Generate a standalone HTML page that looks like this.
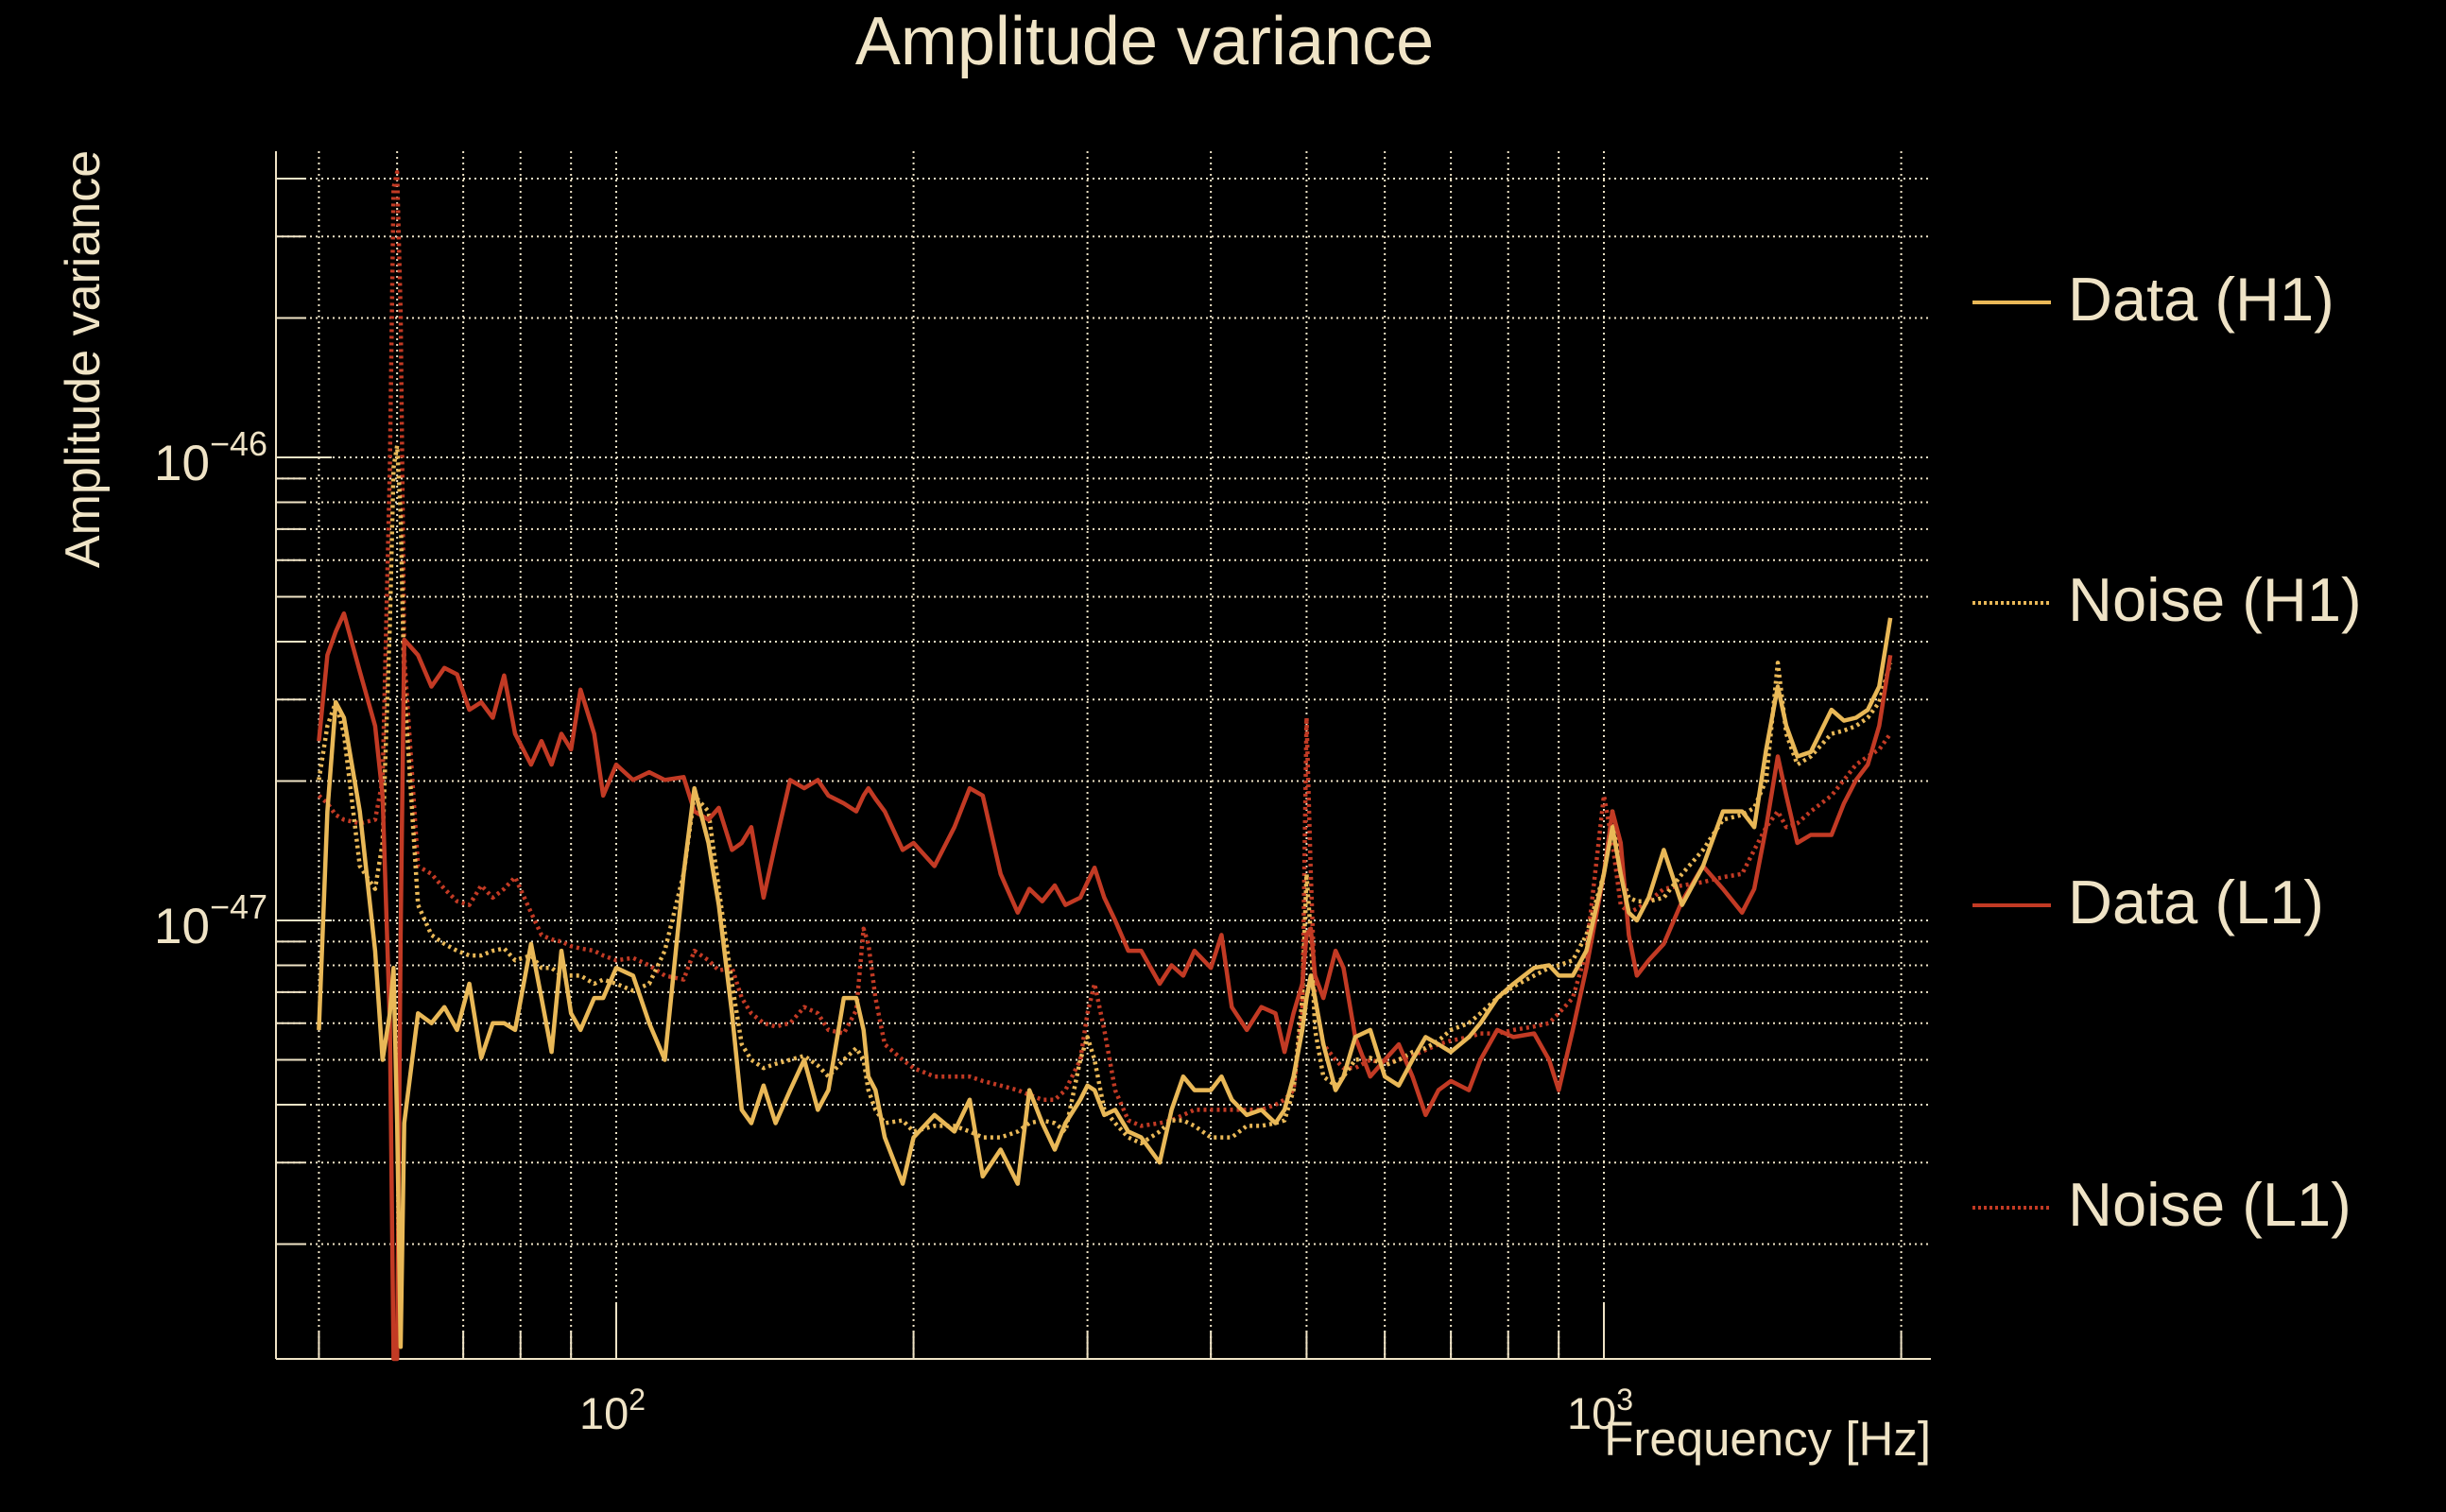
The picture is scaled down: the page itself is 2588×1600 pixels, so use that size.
<!DOCTYPE html>
<html><head><meta charset="utf-8"><style>
html,body{margin:0;padding:0;background:#000;}
svg{display:block;font-family:"Liberation Sans",sans-serif;}
</style></head><body>
<svg id="chart" width="2588" height="1600" viewBox="0 0 2588 1600" xmlns="http://www.w3.org/2000/svg">
<rect width="2588" height="1600" fill="#000"/>
<g id="grid"></g>
<g id="axes"></g>
<g id="series"></g>
<text x="1211" y="68" font-size="72" fill="#f0e4c6" text-anchor="middle">Amplitude variance</text>
<text transform="translate(105,380) rotate(-90)" font-size="52" fill="#f0e4c6" text-anchor="middle">Amplitude variance</text>
<text x="2043" y="1540" font-size="51" fill="#f0e4c6" text-anchor="end">Frequency [Hz]</text>
<g id="legend"></g>
</svg>
<script>
const freqs=[50,51,52,53,55,57,58,59,59.5,60,60.5,61,63,65,67,69,71,73,75,77,79,82,84,86,88,90,92,95,97,100,104,108,112,117,120,124,127,131,134,137,141,145,150,155,160,164,170,175,178,180,183,187,195,200,210,220,228,235,245,255,262,270,278,285,295,300,305,312,320,330,340,355,365,375,385,400,410,420,435,450,465,475,485,495,500,505,510,520,535,545,560,580,600,620,640,660,680,700,730,750,780,810,850,880,900,930,960,1000,1020,1040,1060,1080,1110,1150,1200,1260,1320,1380,1420,1460,1500,1530,1570,1620,1700,1750,1800,1850,1900,1950];
// values in units of 1e-47
const dataL1=[2.44,3.74,4.2,4.6,3.45,2.63,1.86,0.60,0.11,0.11,0.93,4.04,3.74,3.20,3.51,3.40,2.85,2.96,2.74,3.38,2.53,2.17,2.44,2.17,2.53,2.34,3.15,2.53,1.86,2.17,2.01,2.09,2.01,2.04,1.72,1.65,1.75,1.42,1.47,1.59,1.12,1.47,2.01,1.93,2.01,1.86,1.79,1.72,1.86,1.93,1.83,1.72,1.42,1.47,1.31,1.59,1.93,1.86,1.26,1.04,1.17,1.10,1.19,1.08,1.12,1.21,1.30,1.12,1.0,0.86,0.86,0.73,0.80,0.76,0.86,0.79,0.93,0.65,0.58,0.65,0.63,0.52,0.63,0.73,0.93,0.96,0.76,0.68,0.86,0.79,0.56,0.46,0.50,0.54,0.46,0.38,0.43,0.45,0.43,0.50,0.58,0.56,0.57,0.50,0.43,0.58,0.79,1.26,1.72,1.47,0.93,0.76,0.82,0.89,1.10,1.31,1.17,1.04,1.17,1.59,2.26,1.86,1.47,1.53,1.53,1.79,2.01,2.17,2.63,3.74];
const dataH1=[0.58,1.72,2.96,2.74,1.72,0.86,0.50,0.63,0.79,0.365,0.12,0.365,0.63,0.60,0.65,0.58,0.73,0.505,0.60,0.60,0.58,0.89,0.68,0.52,0.86,0.63,0.58,0.68,0.68,0.79,0.76,0.60,0.50,1.26,1.93,1.47,1.08,0.63,0.39,0.365,0.44,0.365,0.43,0.50,0.39,0.43,0.68,0.68,0.58,0.46,0.43,0.34,0.27,0.34,0.38,0.35,0.41,0.28,0.32,0.27,0.43,0.365,0.32,0.365,0.41,0.44,0.43,0.38,0.39,0.35,0.34,0.30,0.39,0.46,0.43,0.43,0.46,0.41,0.38,0.39,0.365,0.39,0.46,0.58,0.68,0.76,0.68,0.54,0.43,0.46,0.56,0.58,0.46,0.44,0.50,0.56,0.54,0.52,0.56,0.60,0.68,0.73,0.79,0.80,0.76,0.76,0.86,1.26,1.59,1.26,1.04,1.0,1.12,1.42,1.08,1.31,1.72,1.72,1.59,2.34,3.20,2.63,2.26,2.31,2.85,2.70,2.74,2.85,3.20,4.5];
const noiseH1=[2.01,2.63,2.96,2.53,1.31,1.17,1.47,4.36,9.5,10.6,7.5,3.20,1.08,0.93,0.89,0.86,0.84,0.84,0.86,0.87,0.82,0.84,0.79,0.79,0.76,0.76,0.76,0.73,0.745,0.73,0.705,0.73,0.86,1.26,1.86,1.72,1.17,0.73,0.54,0.50,0.48,0.49,0.50,0.51,0.486,0.46,0.50,0.53,0.50,0.43,0.39,0.365,0.37,0.35,0.36,0.36,0.35,0.34,0.34,0.35,0.365,0.37,0.365,0.35,0.50,0.56,0.50,0.39,0.365,0.34,0.33,0.35,0.37,0.37,0.36,0.34,0.34,0.34,0.36,0.36,0.365,0.37,0.43,0.68,1.26,0.93,0.58,0.46,0.44,0.46,0.50,0.505,0.486,0.50,0.52,0.53,0.55,0.58,0.60,0.63,0.68,0.72,0.76,0.79,0.80,0.82,0.93,1.26,1.72,1.26,1.12,1.10,1.10,1.12,1.26,1.42,1.65,1.69,1.75,2.01,3.6,2.53,2.17,2.26,2.53,2.57,2.63,2.74,2.96,3.6];
const noiseL1=[1.86,1.79,1.69,1.65,1.62,1.65,2.01,9.5,38.2,41.3,20.5,3.74,1.31,1.26,1.17,1.10,1.08,1.19,1.12,1.17,1.24,1.04,0.93,0.91,0.90,0.88,0.87,0.86,0.84,0.82,0.83,0.80,0.76,0.745,0.86,0.82,0.78,0.79,0.68,0.63,0.60,0.59,0.60,0.65,0.63,0.58,0.57,0.64,0.96,0.89,0.68,0.54,0.50,0.48,0.46,0.46,0.46,0.45,0.44,0.43,0.42,0.41,0.41,0.43,0.50,0.63,0.73,0.58,0.43,0.37,0.36,0.365,0.37,0.38,0.39,0.39,0.39,0.39,0.39,0.39,0.40,0.41,0.43,0.63,2.74,1.26,0.68,0.54,0.50,0.48,0.48,0.50,0.49,0.50,0.51,0.525,0.54,0.55,0.56,0.57,0.57,0.58,0.59,0.60,0.63,0.68,0.86,1.86,1.47,1.08,1.04,1.06,1.10,1.17,1.19,1.21,1.24,1.26,1.42,1.59,1.72,1.59,1.62,1.72,1.86,2.01,2.17,2.26,2.34,2.53];
const unit=1e-47;
const xMajorTicks=[100,1000];
const xMajorLabels=["2","3"];
const yMajorTicks=[1e-46,1e-47];
const yMajorLabels=["\u221246","\u221247"];

const NS="http://www.w3.org/2000/svg";
const L=292,R=2043,T=160,B=1438;
function xs(f){return 652+1045*(Math.log10(f)-2);}
function ys(v){return 974-490*(Math.log10(v)+47);}
const cream="#efe3c6",yellow="#e9b857",red="#c23a24";
function mk(tag,attrs,parent){const e=document.createElementNS(NS,tag);for(const k in attrs)e.setAttribute(k,attrs[k]);parent.appendChild(e);return e;}
const grid=document.getElementById('grid'),axes=document.getElementById('axes');
for(let d=1;d<=3;d++){for(let m=1;m<10;m++){const f=m*Math.pow(10,d);const x=xs(f);if(x<L||x>R)continue;
 const g=mk('line',{x1:x,x2:x,y1:T,y2:B,stroke:cream,'stroke-width':2,'stroke-dasharray':'2 4'},grid);
 
 
 const t=mk('line',{x1:x,x2:x,y1:B,y2:B-(m===1?59:30),stroke:cream,'stroke-width':2},axes);
 
 
}}
for(let d=-48;d<=-46;d++){for(let m=1;m<10;m++){const v=m*Math.pow(10,d);const y=ys(v);if(y<T||y>B)continue;
 const g=mk('line',{x1:L,x2:R,y1:y,y2:y,stroke:cream,'stroke-width':2,'stroke-dasharray':'2 4'},grid);
 
 
 const t=mk('line',{x1:L,x2:L+(m===1?59:30),y1:y,y2:y,stroke:cream,'stroke-width':2},axes);
 
 
}}
const sp1=mk('line',{x1:L,x2:L,y1:T,y2:B,stroke:cream,'stroke-width':2},axes);


const sp2=mk('line',{x1:L,x2:R,y1:B,y2:B,stroke:cream,'stroke-width':2},axes);


xMajorTicks.forEach((f,i)=>{const x=xs(f);
 const t=mk('text',{x:x-4,y:1512,'font-size':47,fill:cream,'text-anchor':'middle'},axes);
 
 
 t.textContent='10';
 const s=mk('tspan',{dy:-20,'font-size':32},t);s.textContent=xMajorLabels[i];
});
yMajorTicks.forEach((v,i)=>{const y=ys(v);
 const t=mk('text',{x:163,y:y+24,'font-size':53,fill:cream},axes);
 
 
 t.textContent='10';
 const s=mk('tspan',{dy:-26,'font-size':36},t);s.textContent=yMajorLabels[i];
});
const seriesList=[
 {name:'noise-l1-line',vals:noiseL1,color:red,dash:'3 4'},
 {name:'noise-h1-line',vals:noiseH1,color:yellow,dash:'3 4'},
 {name:'data-l1-line',vals:dataL1,color:red,dash:null},
 {name:'data-h1-line',vals:dataH1,color:yellow,dash:null}
];
const sg=document.getElementById('series');
seriesList.forEach(s=>{
 let d='';
 s.vals.forEach((v,i)=>{let y=Math.min(ys(v*unit),B);d+=(i?'L':'M')+xs(freqs[i]).toFixed(1)+' '+y.toFixed(1)+' ';});
 const p=mk('path',{d:d,fill:'none',stroke:s.color,'stroke-width':s.dash?4.5:4.5,'stroke-linejoin':'round'},sg);
 if(s.dash)p.setAttribute('stroke-dasharray',s.dash);
 
 
});
const leg=document.getElementById('legend');
const legendLabels=['Data (H1)','Noise (H1)','Data (L1)','Noise (L1)'];
const legendColors=[yellow,yellow,red,red];
const legendDash=[null,'3 3',null,'3 3'];
const legendY=[320,638,958,1278];
legendLabels.forEach((lab,i)=>{
 const g=mk('g',{},leg);
 
 
 const l=mk('line',{x1:2087,x2:2170,y1:legendY[i],y2:legendY[i],stroke:legendColors[i],'stroke-width':4},g);
 if(legendDash[i])l.setAttribute('stroke-dasharray',legendDash[i]);
 const t=mk('text',{x:2188,y:legendY[i]+19,'font-size':65,fill:cream},g);
 t.textContent=lab;
});
</script>
</body></html>
